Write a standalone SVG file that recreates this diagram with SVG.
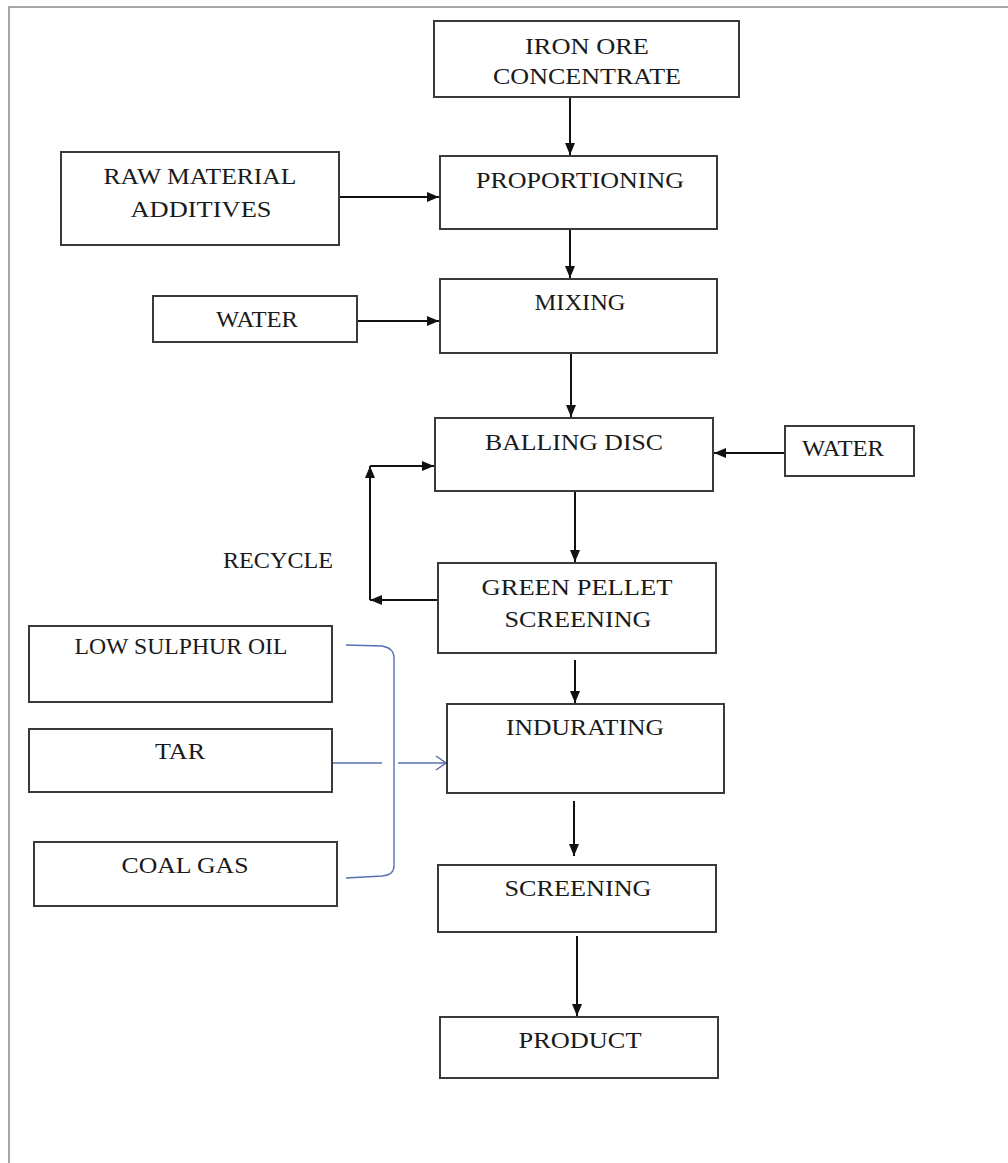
<svg xmlns="http://www.w3.org/2000/svg" width="1008" height="1163" viewBox="0 0 1008 1163">
  <style>
    .box { fill: #ffffff; stroke: #3a3a3a; stroke-width: 2; }
    .lbl { font-family: "Liberation Serif", "DejaVu Serif", serif; font-size: 22.5px; fill: #1a1a1a; text-anchor: middle; }
    .flow { stroke: #111111; stroke-width: 2; fill: none; }
    .fuel { stroke: #5a6fb3; stroke-width: 1.4; fill: none; }
  </style>
  <defs>
    <marker id="arrow" viewBox="0 0 12 10" refX="12" refY="5" markerWidth="12" markerHeight="10" markerUnits="userSpaceOnUse" orient="auto">
      <path d="M0,0 L12,5 L0,10 Z" fill="#111111"/>
    </marker>
    <marker id="open" viewBox="0 0 12 16" refX="11" refY="8" markerWidth="12" markerHeight="16" markerUnits="userSpaceOnUse" orient="auto">
      <path d="M1,1 L11,8 L1,15" fill="none" stroke="#5a6fb3" stroke-width="1.5"/>
    </marker>
  </defs>

  <rect width="1008" height="1163" fill="#ffffff"/>
  <!-- page frame -->
  <path d="M9,1163 L9,7 L1008,7" fill="none" stroke="#8a8a8a" stroke-width="1.5"/>

  <!-- connectors -->
  <g id="connectors">
    <line class="flow" x1="570" y1="97" x2="570" y2="155" marker-end="url(#arrow)"/>
    <line class="flow" x1="339" y1="197" x2="439" y2="197" marker-end="url(#arrow)"/>
    <line class="flow" x1="570" y1="229" x2="570" y2="278" marker-end="url(#arrow)"/>
    <line class="flow" x1="357" y1="321" x2="439" y2="321" marker-end="url(#arrow)"/>
    <line class="flow" x1="571" y1="353" x2="571" y2="417" marker-end="url(#arrow)"/>
    <line class="flow" x1="785" y1="453" x2="714" y2="453" marker-end="url(#arrow)"/>
    <line class="flow" x1="575" y1="491" x2="575" y2="562" marker-end="url(#arrow)"/>
    <!-- recycle loop -->
    <line class="flow" x1="438" y1="600" x2="370" y2="600" marker-end="url(#arrow)"/>
    <line class="flow" x1="370" y1="600" x2="370" y2="466" marker-end="url(#arrow)"/>
    <line class="flow" x1="370" y1="466" x2="434" y2="466" marker-end="url(#arrow)"/>
    <line class="flow" x1="575" y1="660" x2="575" y2="703" marker-end="url(#arrow)"/>
    <line class="flow" x1="574" y1="801" x2="574" y2="856" marker-end="url(#arrow)"/>
    <line class="flow" x1="577" y1="936" x2="577" y2="1016" marker-end="url(#arrow)"/>
    <!-- fuel bracket -->
    <path class="fuel" d="M346,645 L382,646 Q394,648 394,658 L394,866 Q394,875 382,876 L346,878"/>
    <line class="fuel" x1="332" y1="763" x2="382" y2="763"/>
    <line class="fuel" x1="398" y1="763" x2="446" y2="763" marker-end="url(#open)"/>
  </g>

  <g id="iron-ore">
    <rect class="box" x="434" y="21" width="305" height="76"/>
    <text class="lbl" x="587" y="54" textLength="124" lengthAdjust="spacingAndGlyphs">IRON ORE</text>
    <text class="lbl" x="587" y="84" textLength="188" lengthAdjust="spacingAndGlyphs">CONCENTRATE</text>
  </g>
  <g id="raw-material">
    <rect class="box" x="61" y="152" width="278" height="93"/>
    <text class="lbl" x="200" y="184" textLength="193" lengthAdjust="spacingAndGlyphs">RAW MATERIAL</text>
    <text class="lbl" x="201" y="217" textLength="141" lengthAdjust="spacingAndGlyphs">ADDITIVES</text>
  </g>
  <g id="proportioning">
    <rect class="box" x="440" y="156" width="277" height="73"/>
    <text class="lbl" x="580" y="188" textLength="208" lengthAdjust="spacingAndGlyphs">PROPORTIONING</text>
  </g>
  <g id="water-1">
    <rect class="box" x="153" y="296" width="204" height="46"/>
    <text class="lbl" x="257" y="327" textLength="82" lengthAdjust="spacingAndGlyphs">WATER</text>
  </g>
  <g id="mixing">
    <rect class="box" x="440" y="279" width="277" height="74"/>
    <text class="lbl" x="580" y="310" textLength="91" lengthAdjust="spacingAndGlyphs">MIXING</text>
  </g>
  <g id="balling-disc">
    <rect class="box" x="435" y="418" width="278" height="73"/>
    <text class="lbl" x="574" y="450" textLength="178" lengthAdjust="spacingAndGlyphs">BALLING DISC</text>
  </g>
  <g id="water-2">
    <rect class="box" x="785" y="426" width="129" height="50"/>
    <text class="lbl" x="843" y="456" textLength="82" lengthAdjust="spacingAndGlyphs">WATER</text>
  </g>
  <g id="recycle-label">
    <text class="lbl" x="278" y="568" textLength="110" lengthAdjust="spacingAndGlyphs">RECYCLE</text>
  </g>
  <g id="green-pellet">
    <rect class="box" x="438" y="563" width="278" height="90"/>
    <text class="lbl" x="577" y="595" textLength="191" lengthAdjust="spacingAndGlyphs">GREEN PELLET</text>
    <text class="lbl" x="578" y="627" textLength="147" lengthAdjust="spacingAndGlyphs">SCREENING</text>
  </g>
  <g id="low-sulphur-oil">
    <rect class="box" x="29" y="626" width="303" height="76"/>
    <text class="lbl" x="181" y="654" textLength="213" lengthAdjust="spacingAndGlyphs">LOW SULPHUR OIL</text>
  </g>
  <g id="tar">
    <rect class="box" x="29" y="729" width="303" height="63"/>
    <text class="lbl" x="180" y="759" textLength="50" lengthAdjust="spacingAndGlyphs">TAR</text>
  </g>
  <g id="indurating">
    <rect class="box" x="447" y="704" width="277" height="89"/>
    <text class="lbl" x="585" y="735" textLength="158" lengthAdjust="spacingAndGlyphs">INDURATING</text>
  </g>
  <g id="coal-gas">
    <rect class="box" x="34" y="842" width="303" height="64"/>
    <text class="lbl" x="185" y="873" textLength="127" lengthAdjust="spacingAndGlyphs">COAL GAS</text>
  </g>
  <g id="screening">
    <rect class="box" x="438" y="865" width="278" height="67"/>
    <text class="lbl" x="578" y="896" textLength="147" lengthAdjust="spacingAndGlyphs">SCREENING</text>
  </g>
  <g id="product">
    <rect class="box" x="440" y="1017" width="278" height="61"/>
    <text class="lbl" x="580" y="1048" textLength="123" lengthAdjust="spacingAndGlyphs">PRODUCT</text>
  </g>
</svg>
